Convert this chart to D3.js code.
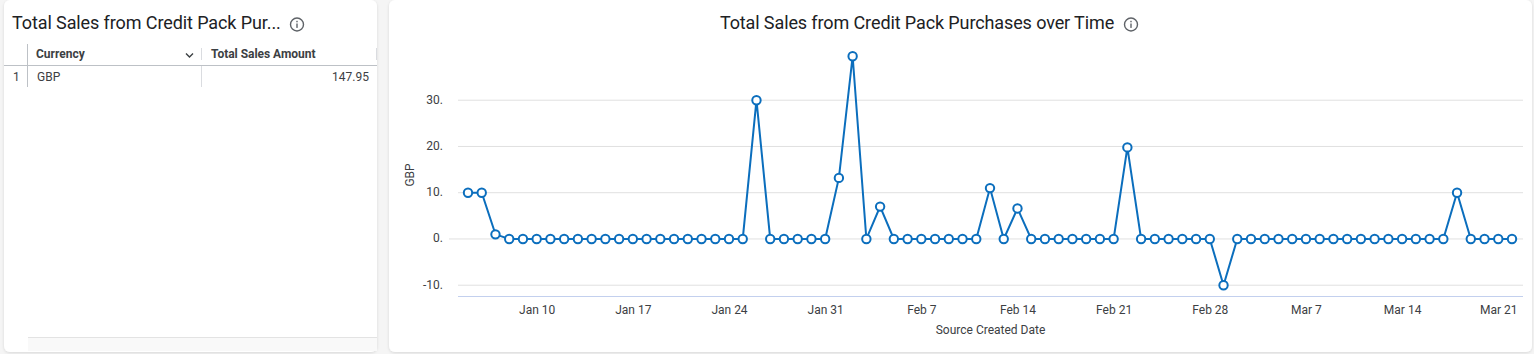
<!DOCTYPE html>
<html>
<head>
<meta charset="utf-8">
<script src="https://cdn.jsdelivr.net/npm/d3@7"></script>
<style>
  html, body { margin: 0; padding: 0; background: #f5f5f5; overflow: hidden; }
  svg { display: block; font-family: Roboto, sans-serif; }
  .axis text { font-family: Roboto, sans-serif; font-size: 12px; fill: #3c4043; }
  .axis path { display: none; }
  .axis line { display: none; }
</style>
</head>
<body>
<svg width="1534" height="354"></svg>
<script>
const tableColumns = ["Currency", "Total Sales Amount"];
const tableCurrency = ["GBP"];
const tableTotals = ["147.95"];

const chartTitle = "Total Sales from Credit Pack Purchases over Time";
const tableTitle = "Total Sales from Credit Pack Pur...";

const dates = [
  "2023-01-05", "2023-01-06", "2023-01-07", "2023-01-08", "2023-01-09", "2023-01-10", "2023-01-11",
  "2023-01-12", "2023-01-13", "2023-01-14", "2023-01-15", "2023-01-16", "2023-01-17", "2023-01-18",
  "2023-01-19", "2023-01-20", "2023-01-21", "2023-01-22", "2023-01-23", "2023-01-24", "2023-01-25",
  "2023-01-26", "2023-01-27", "2023-01-28", "2023-01-29", "2023-01-30", "2023-01-31", "2023-02-01",
  "2023-02-02", "2023-02-03", "2023-02-04", "2023-02-05", "2023-02-06", "2023-02-07", "2023-02-08",
  "2023-02-09", "2023-02-10", "2023-02-11", "2023-02-12", "2023-02-13", "2023-02-14", "2023-02-15",
  "2023-02-16", "2023-02-17", "2023-02-18", "2023-02-19", "2023-02-20", "2023-02-21", "2023-02-22",
  "2023-02-23", "2023-02-24", "2023-02-25", "2023-02-26", "2023-02-27", "2023-02-28", "2023-03-01",
  "2023-03-02", "2023-03-03", "2023-03-04", "2023-03-05", "2023-03-06", "2023-03-07", "2023-03-08",
  "2023-03-09", "2023-03-10", "2023-03-11", "2023-03-12", "2023-03-13", "2023-03-14", "2023-03-15",
  "2023-03-16", "2023-03-17", "2023-03-18", "2023-03-19", "2023-03-20", "2023-03-21", "2023-03-22"
];

const sales = [
  10, 10, 1, 0, 0, 0, 0,
  0, 0, 0, 0, 0, 0, 0,
  0, 0, 0, 0, 0, 0, 0,
  30, 0, 0, 0, 0, 0, 13.2,
  39.5, 0, 7, 0, 0, 0, 0,
  0, 0, 0, 11, 0, 6.6, 0,
  0, 0, 0, 0, 0, 0, 19.8,
  0, 0, 0, 0, 0, 0, -10,
  0, 0, 0, 0, 0, 0, 0,
  0, 0, 0, 0, 0, 0, 0,
  0, 0, 10, 0, 0, 0, 0
];

const yTicks = [-10, 0, 10, 20, 30];
const xTicks = ["2023-01-10", "2023-01-17", "2023-01-24", "2023-01-31", "2023-02-07", "2023-02-14",
  "2023-02-21", "2023-02-28", "2023-03-07", "2023-03-14", "2023-03-21"];

const parseDate = d3.utcParse("%Y-%m-%d");
const formatDate = d3.utcFormat("%b %-d");

const lineColor = "#0b6ebd";
const gridColor = "#e0e0e0";
const textColor = "#3c4043";
const titleColor = "#202124";

const svg = d3.select("svg");

// soft shadow for the two cards
const filter = svg.append("defs").append("filter")
  .attr("id", "shadow")
  .attr("x", "-2%").attr("y", "-5%")
  .attr("width", "104%").attr("height", "110%");
filter.append("feDropShadow")
  .attr("dx", 0).attr("dy", 1)
  .attr("stdDeviation", 1.5)
  .attr("flood-color", "#000")
  .attr("flood-opacity", 0.12);

function card(x, w) {
  svg.append("rect")
    .attr("x", x).attr("y", 0)
    .attr("width", w).attr("height", 352)
    .attr("rx", 6)
    .attr("fill", "#fff")
    .attr("filter", "url(#shadow)");
}

function infoIcon(cx, cy) {
  const g = svg.append("g").attr("transform", `translate(${cx},${cy})`);
  g.append("circle").attr("r", 6.5).attr("fill", "none").attr("stroke", "#5f6368").attr("stroke-width", 1.4);
  g.append("rect").attr("x", -0.7).attr("y", -1).attr("width", 1.4).attr("height", 4.4).attr("fill", "#5f6368");
  g.append("rect").attr("x", -0.7).attr("y", -3.7).attr("width", 1.4).attr("height", 1.5).attr("fill", "#5f6368");
}

card(4, 373);
card(389, 1143);

// left table
svg.append("text")
  .attr("x", 12).attr("y", 29)
  .attr("font-size", 18).attr("letter-spacing", -0.1)
  .attr("fill", titleColor)
  .text(tableTitle);
infoIcon(297, 24.5);

svg.append("rect").attr("x", 28).attr("y", 337).attr("width", 349).attr("height", 14).attr("fill", "#f9f9f9");
svg.append("line").attr("x1", 28).attr("x2", 377).attr("y1", 337.5).attr("y2", 337.5).attr("stroke", "#e3e3e3");

svg.append("line").attr("x1", 4).attr("x2", 377).attr("y1", 65.5).attr("y2", 65.5).attr("stroke", "#bdc1c6");
svg.append("line").attr("x1", 27.5).attr("x2", 27.5).attr("y1", 44).attr("y2", 87).attr("stroke", "#bdc1c6");
svg.append("line").attr("x1", 201.5).attr("x2", 201.5).attr("y1", 48).attr("y2", 60).attr("stroke", "#dadce0");
svg.append("line").attr("x1", 201.5).attr("x2", 201.5).attr("y1", 66).attr("y2", 87).attr("stroke", "#dadce0");
svg.append("line").attr("x1", 376.5).attr("x2", 376.5).attr("y1", 48).attr("y2", 60).attr("stroke", "#dadce0");

svg.append("text").attr("x", 36).attr("y", 58).attr("font-size", 12).attr("font-weight", 700)
  .attr("fill", textColor).text(tableColumns[0]);
svg.append("text").attr("x", 211).attr("y", 58).attr("font-size", 12).attr("font-weight", 700)
  .attr("letter-spacing", -0.03)
  .attr("fill", textColor).text(tableColumns[1]);
svg.append("path").attr("d", "M186 53.5 L189.5 57 L193 53.5").attr("fill", "none")
  .attr("stroke", "#3c4043").attr("stroke-width", 1.4);
svg.append("text").attr("x", 13).attr("y", 81).attr("font-size", 12).attr("fill", textColor).text("1");
svg.append("text").attr("x", 37).attr("y", 81).attr("font-size", 12).attr("fill", textColor).text(tableCurrency[0]);
svg.append("text").attr("x", 369).attr("y", 81).attr("font-size", 12).attr("text-anchor", "end")
  .attr("fill", textColor).text(tableTotals[0]);

// line chart
svg.append("text")
  .attr("x", 917).attr("y", 29)
  .attr("font-size", 18).attr("letter-spacing", -0.11)
  .attr("text-anchor", "middle")
  .attr("fill", titleColor)
  .text(chartTitle);
infoIcon(1131, 24.5);

const plotLeft = 458, plotRight = 1523, plotBottom = 296.5;

const x = d3.scaleUtc()
  .domain([parseDate(dates[0]), parseDate(dates[dates.length - 1])])
  .range([468, 1512]);

const y = d3.scaleLinear()
  .domain([-10, 30])
  .range([285.2, 100.2]);

svg.append("g")
  .selectAll("line")
  .data(yTicks)
  .join("line")
  .attr("x1", d => d === 0 ? 449 : plotLeft)
  .attr("x2", plotRight)
  .attr("y1", d => y(d))
  .attr("y2", d => y(d))
  .attr("stroke", gridColor)
  .attr("stroke-width", 1);

svg.append("line")
  .attr("x1", plotLeft).attr("x2", plotRight)
  .attr("y1", plotBottom).attr("y2", plotBottom)
  .attr("stroke", "#c3d0ee");

svg.append("g")
  .attr("class", "axis")
  .attr("transform", "translate(443,-1)")
  .call(d3.axisLeft(y).tickValues(yTicks).tickSize(0).tickPadding(0).tickFormat(d => d + "."));

svg.append("g")
  .attr("class", "axis")
  .attr("transform", `translate(0,${plotBottom})`)
  .call(d3.axisBottom(x).tickValues(xTicks.map(parseDate)).tickSize(0).tickPadding(9).tickFormat(formatDate));

svg.append("text")
  .attr("x", 990.5).attr("y", 334)
  .attr("font-size", 12).attr("text-anchor", "middle")
  .attr("fill", textColor)
  .text("Source Created Date");

svg.append("text")
  .attr("transform", "translate(413.5,175) rotate(-90)")
  .attr("font-size", 12).attr("text-anchor", "middle")
  .attr("fill", textColor)
  .text("GBP");

const points = dates.map((d, i) => ({ date: parseDate(d), value: sales[i] }));

const line = d3.line()
  .x(d => x(d.date))
  .y(d => y(d.value));

svg.append("path")
  .datum(points)
  .attr("d", line)
  .attr("fill", "none")
  .attr("stroke", lineColor)
  .attr("stroke-width", 2);

svg.append("g")
  .selectAll("circle")
  .data(points)
  .join("circle")
  .attr("cx", d => x(d.date))
  .attr("cy", d => y(d.value))
  .attr("r", 4.2)
  .attr("fill", "#fff")
  .attr("stroke", lineColor)
  .attr("stroke-width", 2);
</script>
</body>
</html>
